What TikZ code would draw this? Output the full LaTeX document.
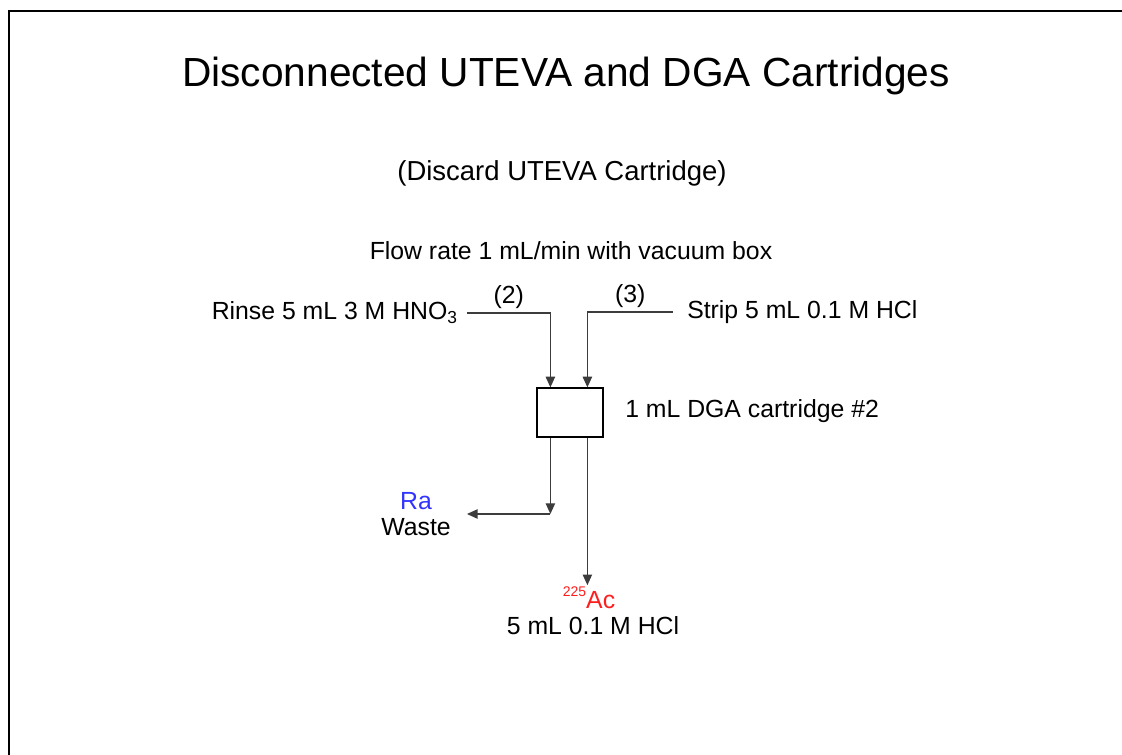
\documentclass[tikz,border=0pt]{standalone}
\usepackage{fontspec}
\setmainfont{Liberation Sans}
\usepackage{tikz}
\usetikzlibrary{positioning, arrows.meta, calc}
\usepackage{xcolor}
\definecolor{raBlue}{RGB}{51, 51, 255}
\definecolor{acRed}{RGB}{255, 30, 30}
\definecolor{pipeGray}{RGB}{60, 60, 60}

\newcommand{\isotope}[2]{\raisebox{0.5em}{\fontsize{10.5}{11}\selectfont #1}#2}

\begin{document}
\begin{tikzpicture}[
    x=0.75pt, y=-0.75pt,
    txt/.style={inner sep=0pt, align=center, font=\fontsize{18.6}{19.5}\selectfont},
    cartridge/.style={rectangle, draw, line width=0.9pt, minimum width=49.5pt, minimum height=36.75pt},
    pipe/.style={draw=pipeGray, line width=1pt},
    flow/.style={pipe, -{Triangle[length=8pt, width=7pt]}}
]
    \useasboundingbox (0,0) rectangle (1122,755);
    \draw[line width=1.8pt] (9,755) -- (9,11) -- (1122,11);

    \node[font=\fontsize{30.5}{36}\selectfont] (title) at (566,76) {Disconnected UTEVA and DGA Cartridges};
    \node[font=\fontsize{20.6}{24}\selectfont] (sub) at (562,173) {(Discard UTEVA Cartridge)};
    \node[txt] (rate) at (571,251) {Flow rate 1 mL/min with vacuum box};

    \node[cartridge] (dga) at (570,412.5) {};
    \node[txt, anchor=west] (dgalabel) at (625,411) {1 mL DGA cartridge \#2};

    \node[txt, inner xsep=6.75pt, anchor=east] (rinse) at (467,313) {Rinse 5 mL 3 M HNO\textsubscript{3}};
    \node[txt, inner xsep=10.5pt, anchor=west] (strip) at (673,312) {Strip 5 mL 0.1 M HCl};

    \coordinate (in2) at ($(dga.north west)+(14,0)$);
    \coordinate (in3) at ($(dga.north west)+(51,0)$);
    \coordinate (out2) at ($(dga.south west)+(14,0)$);
    \coordinate (out3) at ($(dga.south west)+(51,0)$);

    \draw[flow] (rinse.east) -| node[pos=0.25, above=3pt, txt] {(2)} (in2);
    \draw[flow] (strip.west) -| node[pos=0.25, above=3pt, txt] {(3)} (in3);

    % outlets
    \node[txt] (waste) at (416,514) {\textcolor{raBlue}{Ra}\\Waste};
    \node[txt] (ac) at (593,611) {\textcolor{acRed}{\isotope{225}{Ac}}\kern6pt\\5 mL 0.1 M HCl};
    \coordinate (corner) at (out2 |- waste.east);

    \draw[flow] (out2) -- (corner);
    \draw[flow] (corner) -- ([xshift=12pt]waste.east);
    \draw[flow] (out3) -- ([yshift=1pt]out3 |- ac.north);
\end{tikzpicture}
\end{document}
